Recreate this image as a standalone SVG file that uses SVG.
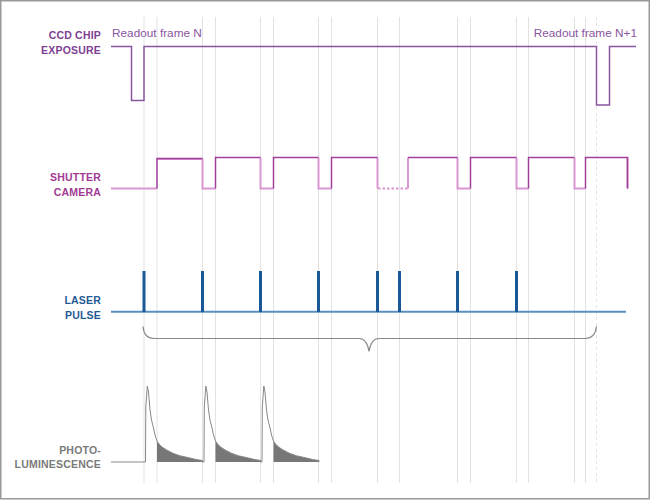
<svg xmlns="http://www.w3.org/2000/svg" width="650" height="500" viewBox="0 0 650 500">
<style>
.lbl{font-family:"Liberation Sans",Arial,sans-serif;font-weight:bold;font-size:10.5px;text-anchor:end;letter-spacing:0.2px}
.ro{font-family:"Liberation Sans",Arial,sans-serif;font-size:11.8px;fill:#8a55a0}
.grid{stroke:#e2e2e2;stroke-width:1;fill:none}
.ccd{stroke:#8a56a0;stroke-width:1.5;fill:none}
.shd{stroke:#a1409a;stroke-width:1.5;fill:none}
.shl{stroke:#da95d2;stroke-width:2;fill:none}
.lb{stroke:#5a8fc4;stroke-width:2;fill:none}
.lp{stroke:#1b5996;stroke-width:3;fill:none}
.pl{stroke:#888;stroke-width:1;fill:none}
.plf{fill:#777;stroke:none}
.brace{stroke:#888;stroke-width:1.2;fill:none}
</style>
<defs>
<g id="plunit">
<path class="plf" d="M157,441 L159,444 L162,447 L166.7,450 L173,453.3 L180,455.8 L190,458 L196,459.5 L202.5,460.5 V462 H157 Z"/>
<path class="pl" d="M144,462 H145.5 L145.8,407 L147.3,386 L148.5,392 L150,410 L151.5,420 L153.3,427 L155,435 L157,441 L159,444 L162,447 L166.7,450 L173,453.3 L180,455.8 L190,458 L196,459.5 L202.5,460.5 V462"/>
</g>
</defs>
<rect x="0.75" y="0.75" width="648.5" height="498" fill="#fff" stroke="#999" stroke-width="1.5"/>
<g id="grid">
<path class="grid" d="M144,17V483M157,17V483M202.5,17V483M215.5,17V483M260.5,17V483M273.5,17V483M318.5,17V483M331.5,17V483M377.5,17V483M399.5,17V483M457.5,17V483M470.5,17V483M516.5,17V483M528.5,17V483M574.5,17V483M585.5,17V483"/>
<path class="grid" d="M596.5,17V483" stroke-dasharray="3,3"/>
</g>
<g id="ccd-exposure">
<text class="lbl" x="101" y="39" fill="#7e3f92">CCD CHIP</text>
<text class="lbl" x="101" y="54" fill="#7e3f92">EXPOSURE</text>
<text class="ro" x="112" y="37">Readout frame N</text>
<text class="ro" x="637" y="37" text-anchor="end">Readout frame N+1</text>
<path class="ccd" d="M111,46.5 H131.5 V100.5 H144 V46.5 H596.5 V105 H609.5 V46.5 H636"/>
</g>
<g id="shutter-camera">
<text class="lbl" x="101" y="181" fill="#a23b93">SHUTTER</text>
<text class="lbl" x="101" y="195.5" fill="#a23b93">CAMERA</text>
<path class="shl" d="M111,188.5 H157 M157,159 H202.5 V188.5 H215.5 M260.5,157.5 V188.5 H273.5 M318.5,157.5 V188.5 H331.5 M377.5,157.5 V188.5 M408,188.5 V157.5 M457.5,157.5 V188.5 H470.5 M516.5,157.5 V188.5 H528.5 M574.5,157.5 V188.5 H585.5 M627.5,157.5 V188.5"/>
<path class="shd" d="M157,188.5 V158.5 H202.5 M215.5,188.5 V157.5 H260.5 M273.5,188.5 V157.5 H318.5 M331.5,188.5 V157.5 H377.5 M408,157.5 H457.5 M470.5,188.5 V157.5 H516.5 M528.5,188.5 V157.5 H574.5 M585.5,188.5 V157.5 H627.5 V188.5"/>
<path class="shl" d="M378,188.5 H408" stroke-dasharray="2.5,2"/>
</g>
<g id="laser-pulse">
<text class="lbl" x="101" y="304" fill="#1f5b94">LASER</text>
<text class="lbl" x="101" y="318.5" fill="#1f5b94">PULSE</text>
<path class="lb" d="M111,311.7 H626"/>
<path class="lp" d="M144,271 V312 M202.5,271 V312 M260.5,271 V312 M318.5,271 V312 M377.5,271 V312 M399.5,271 V312 M457.5,271 V312 M516.5,271 V312"/>
</g>
<g id="connectors">
<path class="brace" d="M143,326.5 Q144,338.5 154,338.5 H359 Q367,338.5 369,351.5 Q371,338.5 379,338.5 H585 Q595,338.5 596.5,326.5"/>
</g>
<g id="photoluminescence">
<text class="lbl" x="101" y="453.5" fill="#7a7a7a">PHOTO-</text>
<text class="lbl" x="101" y="467.5" fill="#7a7a7a">LUMINESCENCE</text>
<path class="pl" d="M111,462 H144"/>
<use href="#plunit"/>
<use href="#plunit" transform="translate(58.5,0)"/>
<use href="#plunit" transform="translate(116.5,0)"/>
</g>
</svg>
